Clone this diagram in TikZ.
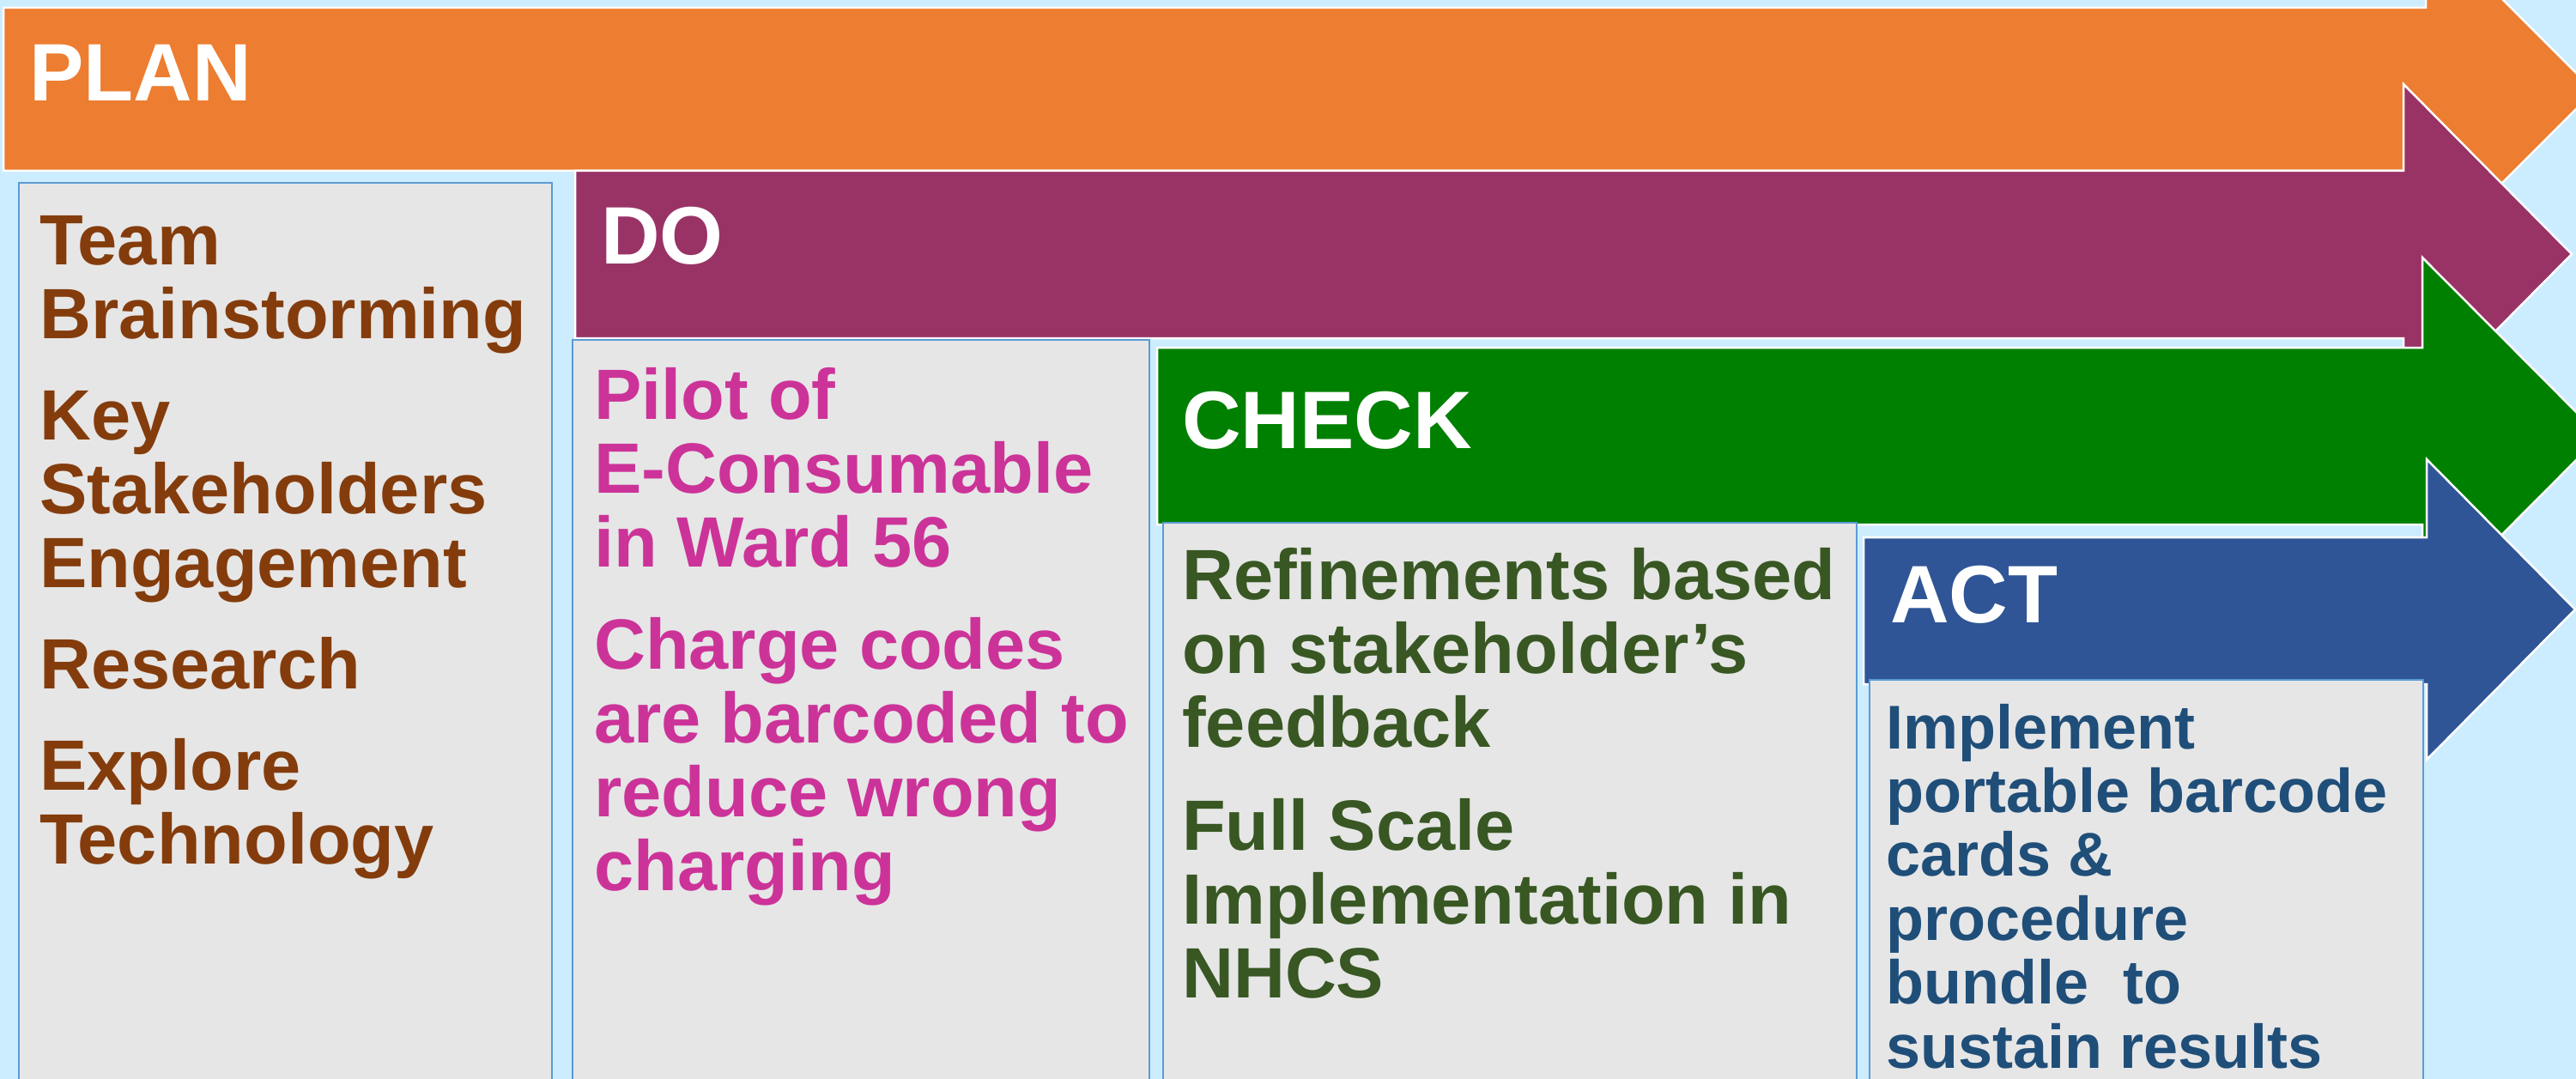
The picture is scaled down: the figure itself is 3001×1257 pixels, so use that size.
\documentclass[tikz,border=0pt]{standalone}
\usepackage{fontspec}
\setmainfont{Liberation Sans}
\usepackage{xcolor}
\usepackage{tikz}
\usetikzlibrary{positioning}

\definecolor{skyback}{HTML}{CCECFF}
\definecolor{planorange}{HTML}{ED7D31}
\definecolor{dopurple}{HTML}{993366}
\definecolor{checkgreen}{HTML}{008000}
\definecolor{actblue}{HTML}{2F5597}
\definecolor{planbrown}{HTML}{843C0C}
\definecolor{domagenta}{HTML}{CC3399}
\definecolor{checkolive}{HTML}{385723}
\definecolor{actnavy}{HTML}{1F4E79}
\definecolor{cardgray}{HTML}{E6E6E6}
\definecolor{cardedge}{HTML}{5B9BD5}

\begin{document}
\begin{tikzpicture}[x=1pt,y=-1pt,
  phase/.style={draw=white, line width=2.5pt, line join=miter},
  stepcard/.style={fill=cardgray, draw=cardedge, line width=2.5pt},
  headtext/.style={anchor=base west, inner sep=0pt, text=white, font=\fontsize{95}{100}\selectfont\bfseries},
  steptext/.style={anchor=base west, inner sep=0pt, align=left, font=\fontsize{83}{86}\selectfont\bfseries},
  acttext/.style={steptext, font=\fontsize{72}{74.4}\selectfont\bfseries}]
% Background
\useasboundingbox (0,0) rectangle (3001,1257);
\fill[skyback] (0,0) rectangle (3001,1257);
\clip (0,0) rectangle (3001,1257);

% Phase arrows
\filldraw[phase, fill=planorange] (4,9) -- (2826,9) -- (2826,-90) -- (3022,106) -- (2826,302) -- (2826,199) -- (4,199) -- cycle;
\filldraw[phase, fill=dopurple] (670,199) -- (2800,199) -- (2800,98) -- (2996,296) -- (2800,494) -- (2800,394) -- (670,394) -- cycle;
\filldraw[phase, fill=checkgreen] (1348,405) -- (2822,405) -- (2822,300) -- (3029,508) -- (2822,716) -- (2822,611) -- (1348,611) -- cycle;
\filldraw[phase, fill=actblue] (2171,626) -- (2827,626) -- (2827,535) -- (3000,710) -- (2827,885) -- (2827,797) -- (2171,797) -- cycle;

% Cards
\filldraw[stepcard] (22,213) rectangle (643,1290);
\filldraw[stepcard] (667,396) rectangle (1339,1290);
\filldraw[stepcard] (1355,609) rectangle (2163,1290);
\filldraw[stepcard] (2178,792) rectangle (2823,1290);

% Phase names
\node[headtext] (plantitle) at (34,118) {PLAN};
\node[headtext] (dotitle) at (700,308) {DO};
\node[headtext] (checktitle) at (1377,522) {CHECK};
\node[headtext] (acttitle) at (2202,725) {ACT};

% Card texts (placed by the baseline of their last line)
\node[steptext, text=planbrown] (planlist) at (46,1006)
  {Team\\Brainstorming\\[32pt]Key\\Stakeholders\\Engagement\\[32pt]Research\\[32pt]Explore\\Technology};
\node[steptext, text=domagenta] (dolist) at (692,1037)
  {Pilot of\\E-Consumable\\in Ward 56\\[33pt]Charge codes\\are barcoded to\\reduce wrong\\charging};
\node[steptext, text=checkolive] (checklist) at (1377,1162)
  {Refinements based\\on stakeholder’s\\feedback\\[34pt]Full Scale\\Implementation in\\NHCS};
\node[acttext, text=actnavy] (actlist) at (2197,1244)
  {Implement\\portable barcode\\cards \&\\procedure\\bundle~~to\\sustain results};

\end{tikzpicture}
\end{document}
